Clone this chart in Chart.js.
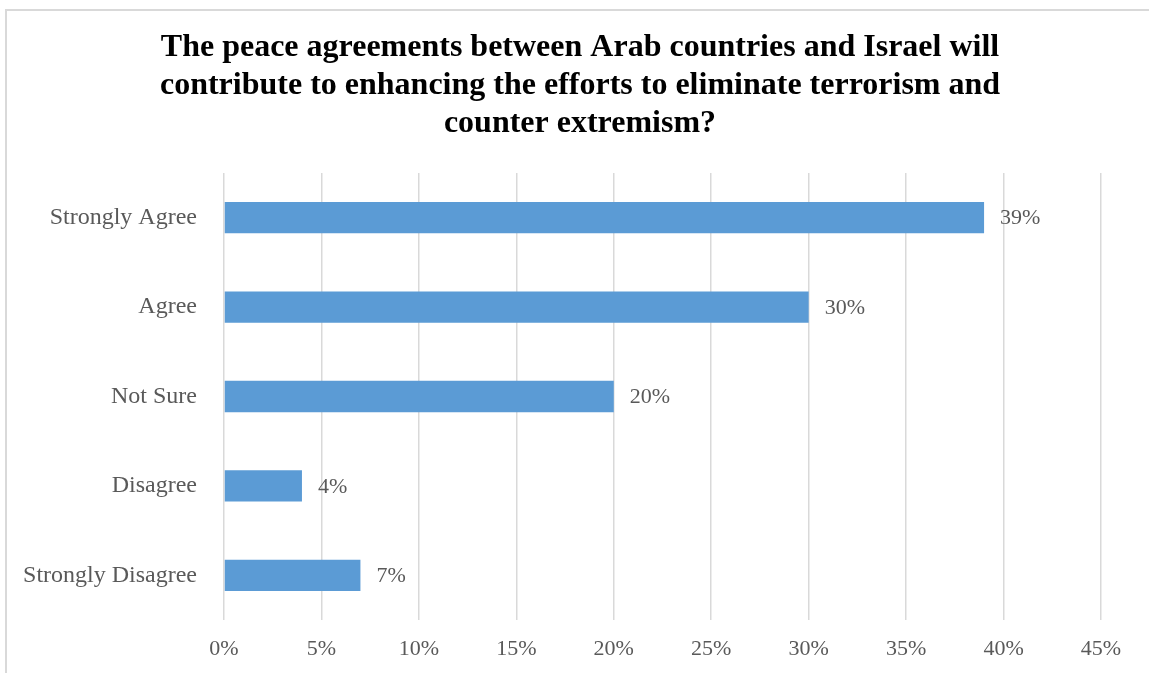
<!DOCTYPE html>
<html>
<head>
<meta charset="utf-8">
<script src="https://cdn.jsdelivr.net/npm/chart.js@4"></script>
<style>
    html, body { margin: 0; padding: 0; background: #fff; overflow: hidden; }
    #frame { position: absolute; left: 5px; top: 9px; width: 1200px; height: 700px; border: 2px solid #d9d9d9; }
    #wrap { position: absolute; left: 0; top: 0; width: 1149px; height: 673px; }
</style>
</head>
<body>
<div id="frame"></div>
<div id="wrap"><canvas id="surveyChart"></canvas></div>
<script>
// Survey answers
const categories = ['Strongly Agree', 'Agree', 'Not Sure', 'Disagree', 'Strongly Disagree'];
const shares = [39, 30, 20, 4, 7];
const titleLines = [
    'The peace agreements between Arab countries and Israel will',
    'contribute to enhancing the efforts to eliminate terrorism and',
    'counter extremism?'
];

const serif = '"Liberation Serif", "Times New Roman", serif';

// Title is centred on the whole frame (which runs past the window), not the canvas
const frameTitle = {
    id: 'frameTitle',
    afterDraw(chart) {
        const ctx = chart.ctx;
        ctx.save();
        ctx.font = 'bold 32px ' + serif;
        ctx.fillStyle = '#000';
        ctx.textAlign = 'center';
        ctx.textBaseline = 'middle';
        titleLines.forEach((line, i) => {
            ctx.fillText(line, 580, 48 + i * 38);
        });
        ctx.restore();
    }
};

// Draw the % value right of each bar
const valueLabels = {
    id: 'valueLabels',
    afterDatasetsDraw(chart) {
        const ctx = chart.ctx;
        const meta = chart.getDatasetMeta(0);
        ctx.save();
        ctx.font = '22px ' + serif;
        ctx.fillStyle = '#595959';
        ctx.textAlign = 'left';
        ctx.textBaseline = 'middle';
        meta.data.forEach((bar, i) => {
            ctx.fillText(shares[i] + '%', bar.x + 16, bar.y + 1);
        });
        ctx.restore();
    }
};

const ctx = document.getElementById('surveyChart').getContext('2d');
new Chart(ctx, {
    type: 'bar',
    data: {
        labels: categories,
        datasets: [{
            data: shares,
            backgroundColor: '#5b9bd5',
            categoryPercentage: 1,
            barPercentage: 0.35
        }]
    },
    options: {
        indexAxis: 'y',
        responsive: true,
        maintainAspectRatio: false,
        animation: false,
        layout: { padding: { top: 173, right: 48, bottom: 0, left: 0 } },
        plugins: {
            legend: { display: false },
            tooltip: { enabled: false },
            title: { display: false }
        },
        scales: {
            x: {
                min: 0,
                max: 45,
                ticks: {
                    stepSize: 5,
                    padding: 16,
                    color: '#595959',
                    font: { family: serif, size: 22 },
                    callback: v => v + '%'
                },
                grid: { color: '#d9d9d9', lineWidth: 1.5, drawTicks: false },
                border: { display: false },
                afterFit(scale) { scale.height = 53; }
            },
            y: {
                ticks: {
                    padding: 27,
                    color: '#595959',
                    font: { family: serif, size: 24 }
                },
                grid: { display: false, drawTicks: false },
                border: { display: false },
                afterFit(scale) { scale.width = 224; }
            }
        }
    },
    plugins: [valueLabels, frameTitle]
});
</script>
</body>
</html>
